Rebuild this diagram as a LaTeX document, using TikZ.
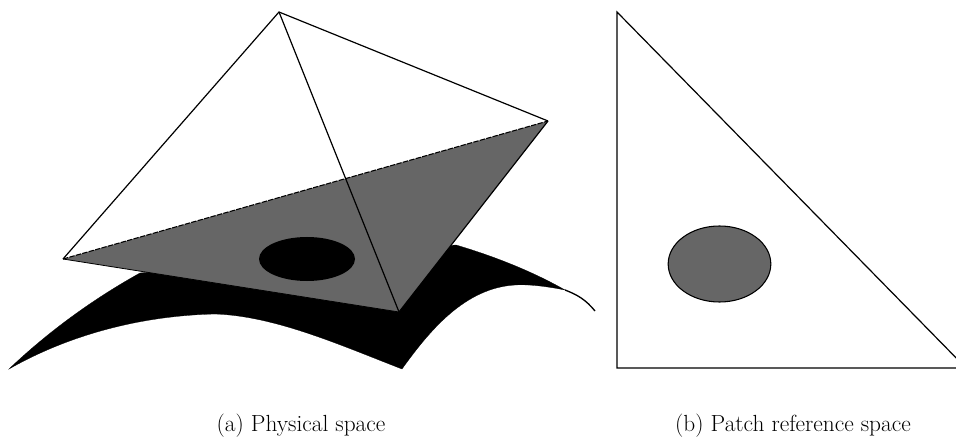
\documentclass[tikz,border=0pt]{standalone}
\usetikzlibrary{shapes.geometric}
\definecolor{mottled}{gray}{0.4}
\tikzset{
  wire/.style={draw=black,line width=0.9pt,line join=miter},
  patch/.style={fill=mottled},
  surf/.style={fill=black,draw=black,line width=0.2pt},
  caption/.style={inner sep=0pt,font=\fontsize{17.5}{21}\selectfont,anchor=base}
}
\begin{document}
\begin{tikzpicture}[x=0.75pt,y=-0.75pt]
\useasboundingbox (0,0) rectangle (956,438);
\clip (0,0) rectangle (956,438);
\coordinate (A) at (279,12);
\coordinate (B) at (63,259);
\coordinate (C) at (548,121);
\coordinate (D) at (399,312);
\coordinate (P) at (617,12);
\coordinate (Q) at (617,368);
\coordinate (R) at (966,368);
\coordinate (SL) at (9,369);
\coordinate (SB) at (402,369);
\coordinate (ST) at (565,290);
\coordinate (SE) at (595,311);
% black surface
\draw[surf] (SL) .. controls (50,330) and (95,298) .. (140,273)
  -- (456,245) .. controls (490,255) and (530,270) .. (ST)
  .. controls (550,287) and (530,284) .. (515,285)
  .. controls (465,288) and (430,330) .. (SB)
  .. controls (340,345) and (275,316) .. (215,314)
  .. controls (130,316) and (60,340) .. (SL) -- cycle;
\draw[line width=1pt] (ST) .. controls (578,295) and (586,300) .. (SE);
% grey patch
\fill[patch] (B) -- (C) -- (D) -- cycle;
\node[ellipse,fill=black,minimum width=72pt,minimum height=33pt,inner sep=0pt,draw=none] (E1) at (307,259) {};
% edges
\draw[wire] (B) -- (A) -- (C);
\draw[wire] (A) -- (D);
\draw[wire] (C) -- (D);
\draw[wire,line width=0.6pt] (B) -- (D);
\draw[line width=0.8pt,dash pattern=on 4pt off 1pt] (B) -- (C);
% reference triangle
\draw[wire] (P) -- (Q) -- (R) -- cycle;
\node[ellipse,fill=mottled,draw=black,line width=0.8pt,minimum width=77pt,minimum height=57pt,inner sep=0pt] (E2) at (719.5,264) {};
% captions
\node[caption] (capa) at (301,431) {(a) Physical space};
\node[caption] (capb) at (793,431) {(b) Patch reference space};
\end{tikzpicture}
\end{document}
